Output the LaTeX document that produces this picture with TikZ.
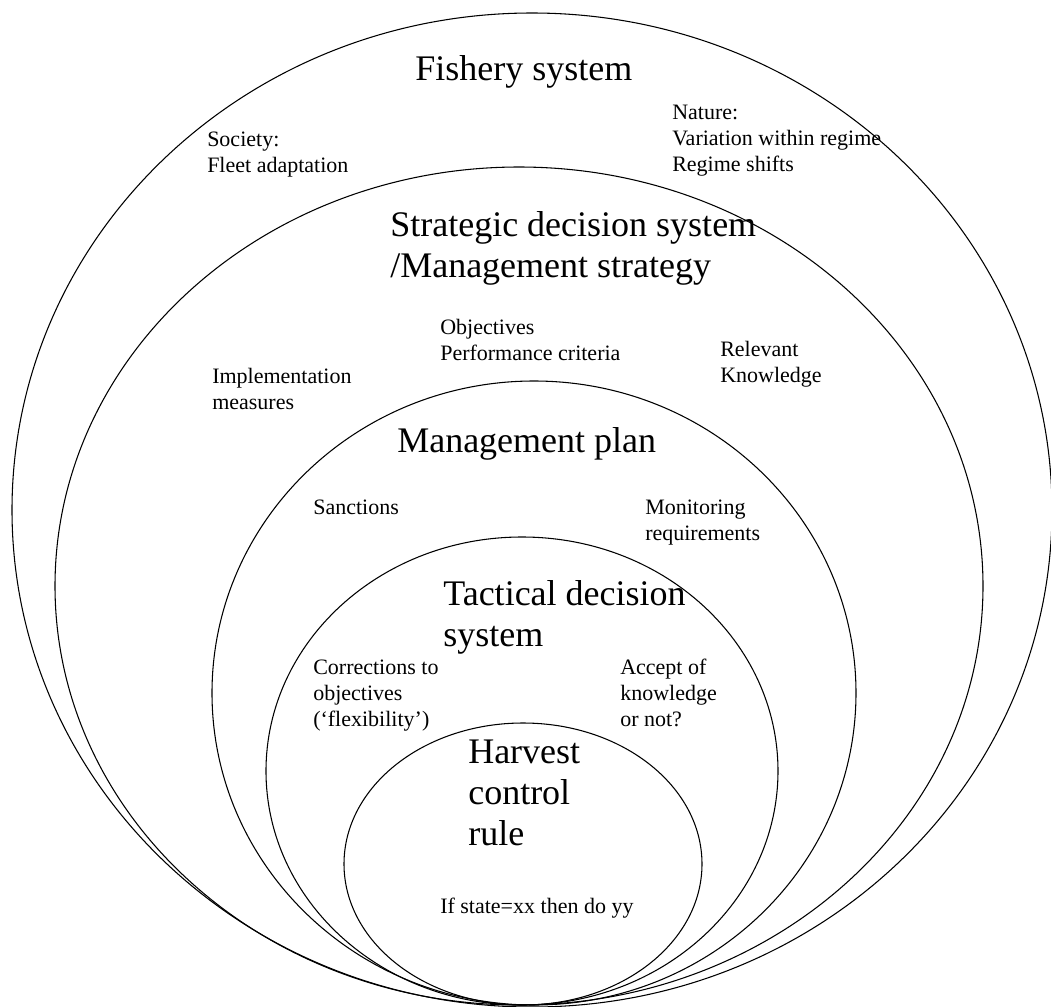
\documentclass[tikz,border=0pt]{standalone}
\usepackage{fontspec}
\setmainfont{Liberation Serif}
\usepackage{tikz}
\usetikzlibrary{positioning}

\begin{document}
\begin{tikzpicture}[x=0.75pt,y=-0.75pt,
        ring/.style={line width=0.8pt},
        small/.style={inner sep=0pt,anchor=base west,align=left,
            font=\fontsize{16.5}{19.5}\selectfont},
        big/.style={inner sep=0pt,anchor=base west,align=left,
            font=\fontsize{27}{30.75}\selectfont}]
            \useasboundingbox (0,0) rectangle (1051,1007);
            % nested systems
            \draw[ring] (532,510) ellipse [x radius=520, y radius=497];
            \draw[ring] (519,586) ellipse [x radius=464, y radius=419];
            \draw[ring] (534,693) ellipse [x radius=322, y radius=312];
            \draw[ring] (522,771) ellipse [x radius=256, y radius=234];
            \draw[ring] (523,864) ellipse [x radius=179, y radius=141];
            % fishery system (base = last line)
            \node[big] (fishery) at (415,80) {Fishery system};
            \node[small] (society) at (207,172) {Society:\\Fleet adaptation};
            \node[small] (nature) at (672,171) {Nature:\\Variation within regime\\Regime shifts};
            % strategic level
            \node[big] (strategic) at (390,277) {Strategic decision system\\/Management strategy};
            \node[small] (objectives) at (440,360) {Objectives\\Performance criteria};
            \node[small] (implement) at (212,409) {Implementation\\measures};
            \node[small] (knowledge) at (720,382) {Relevant\\Knowledge};
            % management plan
            \node[big] (plan) at (397,452) {Management plan};
            \node[small] (sanctions) at (313,514) {Sanctions};
            \node[small] (monitoring) at (645,540) {Monitoring\\requirements};
            % tactical level
            \node[big] (tactical) at (443,646) {Tactical decision\\system};
            \node[small] (corrections) at (313,726) {Corrections to\\objectives\\(`flexibility')};
            \node[small] (accept) at (620,726) {Accept of\\knowledge\\or not?};
            % harvest control rule
            \node[big] (hcr) at (468,845) {Harvest\\control\\rule};
            \node[small] (rule) at (440,913) {If state=xx then do yy};
        \end{tikzpicture}
\end{document}
